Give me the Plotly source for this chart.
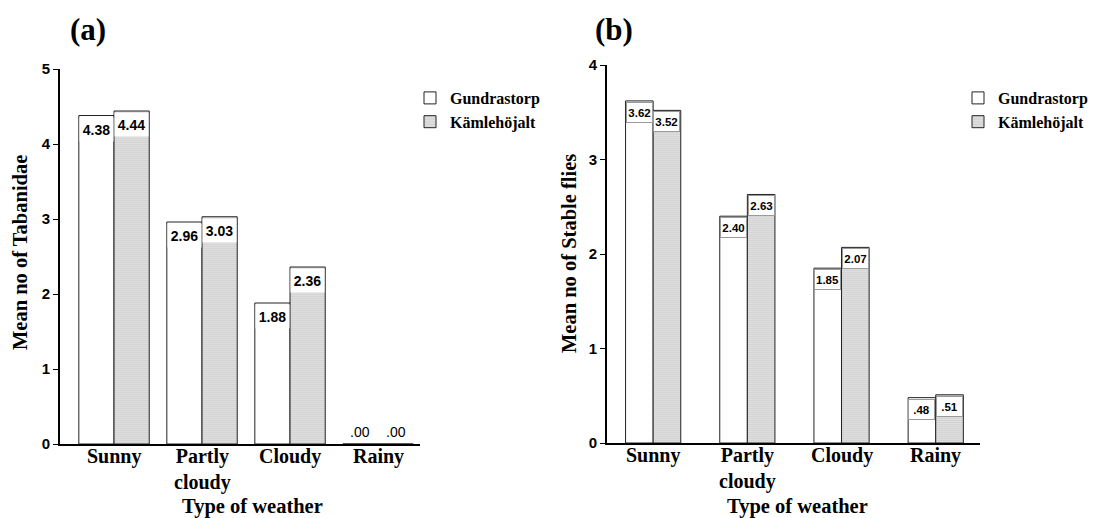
import plotly.graph_objects as go

# ---- data ----
categories = ["Sunny", "Partly<br>cloudy", "Cloudy", "Rainy"]
series_names = ["Gundrastorp", "Kämlehöjalt"]
tabanidae_gundrastorp = [4.38, 2.96, 1.88, 0.00]
tabanidae_kamlehojalt = [4.44, 3.03, 2.36, 0.00]
stable_gundrastorp = [3.62, 2.40, 1.85, 0.48]
stable_kamlehojalt = [3.52, 2.63, 2.07, 0.51]
y_ticks_a = [0, 1, 2, 3, 4, 5]
y_ticks_b = [0, 1, 2, 3, 4]

# page body has an 8px margin -> shrink figure so it fits the window exactly
OFF = 8
W, H = 1101 - OFF, 518 - OFF
SERIF = "Liberation Serif"
SANS = "Liberation Sans"


def fmt(v):
    s = f"{v:.2f}"
    return s[1:] if s.startswith("0.") else s


def px_x(p):
    return (p - OFF) / W


def px_y(p):
    return 1 - (p - OFF) / H


fig = go.Figure()

panels = [
    dict(xa="x", ya="y", xd=[60, 420], yd=[444, 69], yr=[0, 5], ticks=y_ticks_a,
         s1=tabanidae_gundrastorp, s2=tabanidae_kamlehojalt, bw=0.40, xr=[-0.614, 3.477],
         legend="legend", lfs=14, boxh=25, bpx=35, border=False),
    dict(xa="x2", ya="y2", xd=[607, 980], yd=[443, 65], yr=[0, 4], ticks=y_ticks_b,
         s1=stable_gundrastorp, s2=stable_kamlehojalt, bw=0.293, xr=[-0.49, 3.47],
         legend="legend2", lfs=11.5, boxh=21, bpx=27, border=True),
]

pattern = dict(shape=".", fgcolor="#6a6a6a", bgcolor="white", size=2, solidity=0.6)

annotations = []
for i, p in enumerate(panels):
    for k, (vals, name) in enumerate([(p["s1"], series_names[0]), (p["s2"], series_names[1])]):
        marker = dict(color="white", line=dict(color="#222", width=1))
        if k == 1:
            marker["pattern"] = pattern
        fig.add_trace(go.Bar(
            x=list(range(len(categories))), y=vals, name=name,
            width=p["bw"], offset=-p["bw"] if k == 0 else 0,
            marker=marker, xaxis=p["xa"], yaxis=p["ya"], legend=p["legend"],
        ))
        for j, v in enumerate(vals):
            xc = j - p["bw"] / 2 if k == 0 else j + p["bw"] / 2
            if v > 0:
                annotations.append(dict(
                    x=xc, y=v, xref=p["xa"], yref=p["ya"], text=f"<b>{fmt(v)}</b>",
                    showarrow=False, yanchor="top", xanchor="center", yshift=-1,
                    font=dict(family=SANS, size=p["lfs"], color="black"),
                    bgcolor="white", width=p["bpx"] - 4, height=p["boxh"] - 4,
                    bordercolor="#9a9a9a" if p["border"] else "rgba(0,0,0,0)",
                    borderwidth=1, borderpad=1,
                ))
            else:
                annotations.append(dict(
                    x=xc, y=0, xref=p["xa"], yref=p["ya"], text=fmt(v),
                    showarrow=False, yanchor="bottom", xanchor="center", yshift=2,
                    font=dict(family=SANS, size=p["lfs"], color="black"),
                ))

    # category labels under the axis
    for j, c in enumerate(categories):
        annotations.append(dict(
            x=j, y=px_y(p["yd"][0]), xref=p["xa"], yref="paper", text=c,
            showarrow=False, xanchor="center", yanchor="top", align="center", borderpad=0,
            font=dict(family=SERIF, size=20, color="black", weight="bold"),
        ))

    xd = [px_x(p["xd"][0]), px_x(p["xd"][1])]
    yd = [px_y(p["yd"][0]), px_y(p["yd"][1])]
    xkey = "xaxis" if i == 0 else "xaxis2"
    ykey = "yaxis" if i == 0 else "yaxis2"
    fig.update_layout(**{
        xkey: dict(domain=xd, anchor=p["ya"], range=p["xr"], showticklabels=False,
                   showline=True, linecolor="black", linewidth=2, ticks="",
                   showgrid=False, zeroline=False, automargin=False),
        ykey: dict(domain=yd, anchor=p["xa"], range=p["yr"], tickmode="array",
                   tickvals=p["ticks"], ticktext=[str(t) for t in p["ticks"]],
                   showline=True, linecolor="black", linewidth=2, ticks="outside",
                   ticklen=5, tickwidth=1, tickcolor="black", showgrid=False, zeroline=False,
                   automargin=False,
                   tickfont=dict(family=SANS, size=15, color="black", weight="bold")),
    })

# titles and axis titles
def label(x, y, text, size, angle=0):
    return dict(x=px_x(x), y=px_y(y), xref="paper", yref="paper", text=text, showarrow=False,
                xanchor="center", yanchor="middle", textangle=angle, borderpad=0,
                font=dict(family=SERIF, size=size, color="black", weight="bold"))


annotations += [
    label(88, 30, "(a)", 31),
    label(614, 30, "(b)", 31),
    label(252, 506, "Type of weather", 20.5),
    label(797, 506, "Type of weather", 20.5),
    label(20, 253, "Mean no of Tabanidae", 20.5, -90),
    label(569, 254, "Mean no of Stable flies", 20.5, -90),
]

legend_style = dict(font=dict(family=SERIF, size=16, color="black", weight="bold"),
                    bgcolor="rgba(0,0,0,0)", itemwidth=30, tracegroupgap=0,
                    xanchor="left", yanchor="top", traceorder="normal", itemclick=False)

fig.update_layout(
    width=W, height=H, margin=dict(l=0, r=0, t=0, b=0, autoexpand=False),
    paper_bgcolor="white", plot_bgcolor="white",
    barmode="overlay", showlegend=True,
    legend=dict(x=px_x(410), y=px_y(81), **legend_style),
    legend2=dict(x=px_x(958), y=px_y(81), **legend_style),
    annotations=annotations,
)

fig.write_html("out.html")
